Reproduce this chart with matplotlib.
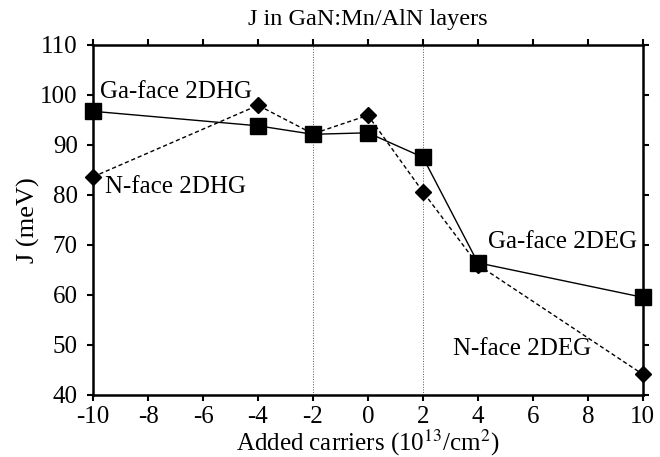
import matplotlib.pyplot as plt

plt.rcParams['font.family'] = ['Liberation Serif', 'DejaVu Serif']
plt.rcParams['mathtext.fontset'] = 'stix'
plt.rcParams['axes.unicode_minus'] = False

# added carriers (10^13/cm^2)
carriers = [-10, -4, -2, 0, 2, 4, 10]
# J (meV)
ga_face = [96.7, 93.8, 92.1, 92.4, 87.5, 66.4, 59.5]
n_face = [83.6, 97.9, 92.2, 95.9, 80.6, 66.0, 44.1]

fig = plt.figure(figsize=(6.6, 4.57), dpi=100)
ax = fig.add_axes([0.141, 0.136, 0.833, 0.766])

ax.axvline(-2, color='#555555', lw=0.7, ls=':', zorder=1)
ax.axvline(2, color='#555555', lw=0.7, ls=':', zorder=1)

ax.plot(carriers, n_face, 'k--', lw=1.0, marker='D', ms=8.5, dashes=(3, 2),
        zorder=3, clip_on=False)
ax.plot(carriers, ga_face, 'k-', lw=1.0, marker='s', ms=11.5, zorder=4,
        clip_on=False)

ax.text(-9.75, 99.4, 'Ga-face 2DHG', fontsize=18)
ax.text(-9.55, 80.4, 'N-face 2DHG', fontsize=18)
ax.text(4.36, 69.4, 'Ga-face 2DEG', fontsize=18)
ax.text(3.1, 48.0, 'N-face 2DEG', fontsize=18)

ax.set_xlim(-10, 10)
ax.set_ylim(40, 110)
ax.set_xticks(range(-10, 11, 2))
ax.set_yticks(range(40, 111, 10))
for s in ax.spines.values():
    s.set_linewidth(1.8)
ax.tick_params(direction='out', length=4, width=1.5, labelsize=18,
               top=True, right=True, pad=3)
ax.tick_params(axis='y', pad=7)
ax.tick_params(axis='x', pad=4)

ax.set_title('J in GaN:Mn/AlN layers', fontsize=17.5, pad=14)
ax.set_xlabel('Added carriers (10$^{13}$/cm$^{2}$)', fontsize=18, labelpad=0)
ax.set_ylabel('J (meV)', fontsize=19, labelpad=0)

fig.savefig('out.png', dpi=100)
